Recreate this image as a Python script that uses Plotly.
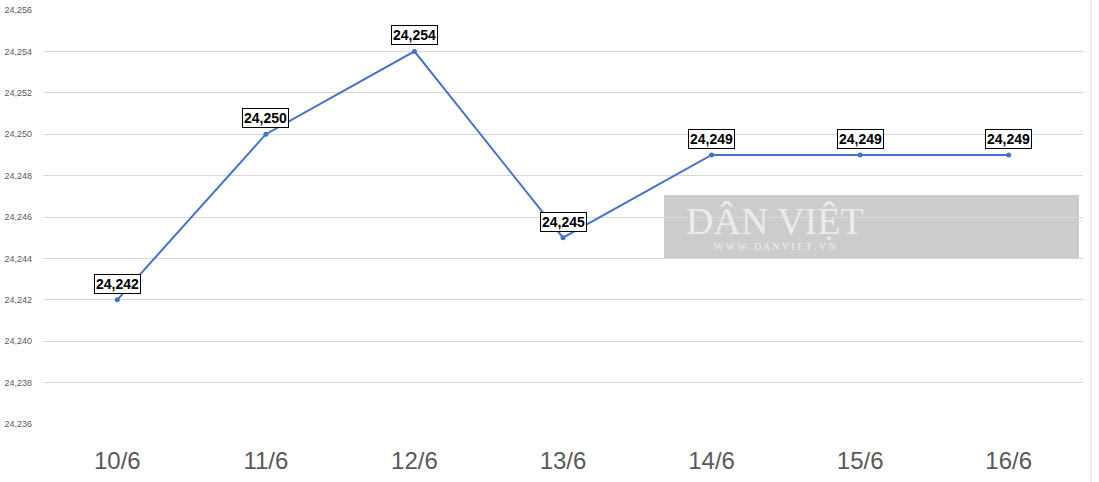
import plotly.graph_objects as go

categories = ["10/6", "11/6", "12/6", "13/6", "14/6", "15/6", "16/6"]
values = [24242, 24250, 24254, 24245, 24249, 24249, 24249]
y_ticks = list(range(24236, 24257, 2))

fig = go.Figure()
fig.add_trace(go.Scatter(
    x=categories, y=values, mode="lines+markers",
    line=dict(color="#4472C4", width=2),
    marker=dict(color="#4472C4", size=5),
    hoverinfo="skip", showlegend=False,
))

for c, v in zip(categories, values):
    fig.add_annotation(
        x=c, y=v, text=f"{v:,}", showarrow=False, yshift=16,
        font=dict(family="Liberation Sans, Arial", size=14, color="black", weight="bold"),
        bgcolor="white", bordercolor="black", borderwidth=1, borderpad=1,
    )

# watermark box
fig.add_shape(type="rect", xref="paper", yref="paper",
              x0=(664-43)/1040, x1=(1079-43)/1040,
              y0=(424-258)/414, y1=(424-195)/414,
              fillcolor="#cccccc", line=dict(width=0), layer="below")
fig.add_annotation(xref="paper", yref="paper", x=(775-43)/1040, y=(424-221)/414,
                   xanchor="center", yanchor="middle",
                   text="DÂN VIỆT", showarrow=False,
                   font=dict(family="Liberation Serif, serif", size=38, color="#ececec"))
fig.add_annotation(xref="paper", yref="paper", x=(775-43)/1040, y=(424-246)/414,
                   xanchor="center", yanchor="middle",
                   text="W W W . D A N V I E T . V N", showarrow=False,
                   font=dict(family="Liberation Serif, serif", size=10, color="#ececec"))

# faint spreadsheet edge
fig.add_shape(type="line", xref="paper", yref="paper",
              x0=(1091-43)/1040, x1=(1091-43)/1040, y0=-0.2, y1=1.1,
              line=dict(color="#d9d9d9", width=1))

fig.update_layout(
    width=1099, height=482,
    margin=dict(l=43, r=16, t=10, b=58),
    paper_bgcolor="white", plot_bgcolor="white",
    xaxis=dict(
        type="category", range=[-0.5, 6.5], showgrid=False, showline=False,
        zeroline=False, ticks="", ticklabelstandoff=20, automargin=False,
        tickfont=dict(family="Liberation Sans, Arial", size=24, color="#595959"),
    ),
    yaxis=dict(
        range=[24236, 24256], tickvals=y_ticks, tickformat=",",
        showgrid=True, gridcolor="#d9d9d9", gridwidth=1, zeroline=False,
        showline=False, ticks="", ticklabelstandoff=10, automargin=False,
        tickfont=dict(family="Liberation Sans, Arial", size=9, color="#595959"),
    ),
)

fig.write_html("out.html", config={"displayModeBar": False},
               post_script="document.body.style.margin='0';")
